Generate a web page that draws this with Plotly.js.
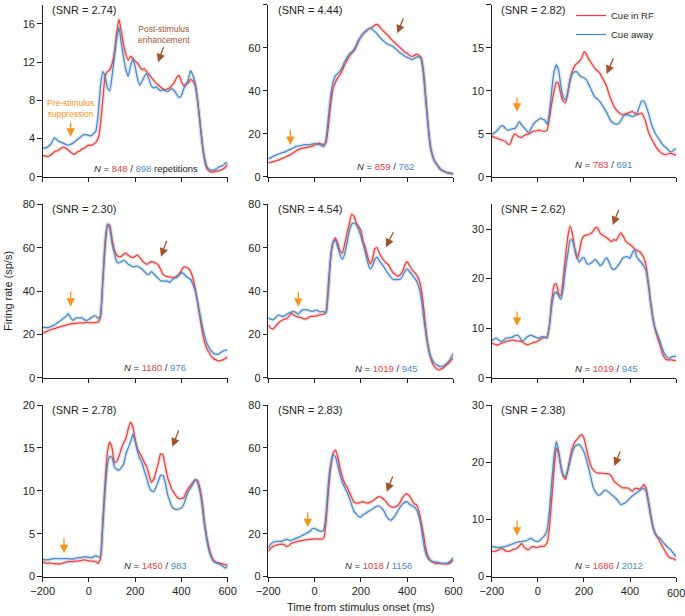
<!DOCTYPE html>
<html><head><meta charset="utf-8">
<script src="https://cdn.plot.ly/plotly-3.0.1.min.js"></script>
<style>html,body{margin:0;padding:0;background:#fff}#chart{width:685px;height:616px}</style>
</head><body><div id="chart"></div>
<script>
// ---------- DATA ----------
const time = [-200,-190,-180,-170,-160,-150,-140,-130,-120,-110,
  -100,-90,-80,-70,-60,-50,-40,-30,-20,-10,
  0,10,20,30,40,50,60,70,80,90,
  100,110,120,130,140,150,160,170,180,190,
  200,210,220,230,240,250,260,270,280,290,
  300,310,320,330,340,350,360,370,380,390,
  400,410,420,430,440,450,460,470,480,490,
  500,510,520,530,540,550,560,570,580,590,600];

const red1 = [2.2,2.2,2.1,2.2,2.4,2.6,2.7,2.8,3.0,3.1, 3.0,2.8,2.6,2.4,2.4,2.6,2.7,2.9,3.0,3.2,
  3.3,3.3,3.4,3.6,4.0,5.5,8.0,10.5,11.0,11.2, 11.8,13.0,15.0,16.5,15.2,13.8,12.8,12.2,12.6,12.4,
  12.1,11.9,11.5,11.2,11.3,11.0,10.7,10.4,10.1,9.8, 9.6,9.4,9.2,9.1,9.2,9.3,9.6,9.9,10.4,10.6,
  10.0,9.5,9.7,9.8,10.2,10.0,9.5,8.0,5.8,3.5, 1.8,0.9,0.6,0.5,0.5,0.6,0.6,0.7,0.8,1.0, 1.3];
const blue1 = [3.0,3.0,3.1,3.3,3.6,4.1,3.9,3.7,3.6,3.5, 3.4,3.3,3.4,3.5,3.7,3.9,4.1,4.3,4.4,4.4,
  4.3,4.3,4.5,4.8,6.5,9.5,11.0,10.5,9.3,9.0, 10.5,12.5,14.5,15.6,14.0,12.5,11.2,10.5,11.6,12.3,
  11.5,10.3,9.6,10.0,10.5,10.8,10.2,9.5,9.3,9.4, 9.2,9.0,9.1,9.0,8.9,9.1,9.2,9.0,8.6,8.3,
  8.5,9.2,9.6,10.2,11.1,10.6,9.8,8.0,5.8,3.6, 2.0,1.1,0.8,0.7,0.7,0.8,1.0,1.1,1.2,1.4, 1.5];

const red2 = [6.5,6.7,7.0,7.3,7.7,8.0,8.6,9.0,9.5,10.0, 10.5,11.3,12.0,12.6,13.0,13.3,13.5,13.7,14.0,14.3,
  14.8,15.2,15.6,15.2,15.0,16.0,24.0,34.0,41.0,44.0, 46.0,47.5,49.5,52.0,54.0,56.0,57.5,58.5,60.5,63.0,
  65.0,66.5,67.5,68.5,69.0,69.5,70.5,70.8,70.0,68.5, 67.5,66.5,65.5,64.0,63.0,62.0,61.0,60.0,59.0,58.0,
  57.5,56.5,56.0,56.3,57.0,56.5,55.5,50.0,38.0,25.0, 15.0,10.0,7.0,5.5,4.0,3.0,2.5,2.0,1.8,1.5, 1.3];
const blue2 = [8.3,8.8,9.5,10.0,10.4,10.8,11.2,11.5,12.0,12.5, 13.0,13.5,14.2,14.3,14.5,14.8,15.0,14.8,15.0,15.2,
  15.5,15.3,15.0,14.5,14.0,18.0,28.0,38.0,44.0,47.0, 48.0,49.0,51.0,53.5,55.5,57.0,58.0,59.0,61.0,63.5,
  65.0,66.5,67.5,68.5,69.0,68.5,67.5,66.5,65.0,64.0, 63.0,62.0,61.5,61.0,60.5,59.5,58.5,57.5,57.0,56.0,
  55.5,55.0,54.5,55.0,55.5,55.8,55.0,48.0,36.0,24.0, 14.0,9.5,7.0,5.5,4.0,3.0,2.5,2.0,1.8,1.6, 1.5];

const red3 = [4.7,4.6,4.5,4.4,4.3,4.2,4.1,3.8,3.8,4.6, 5.0,4.8,4.6,4.6,4.8,4.9,5.0,5.1,5.3,5.3,
  5.4,5.4,5.3,5.3,5.4,6.8,8.5,9.9,11.0,10.8, 9.5,8.8,8.6,9.8,11.3,12.3,12.9,13.2,13.4,13.8,
  14.5,14.3,13.7,13.3,12.9,12.5,12.3,12.0,11.5,11.0, 10.4,9.5,8.8,8.2,7.8,7.5,7.3,7.2,7.3,7.4,
  7.5,7.6,7.4,7.2,7.3,7.4,7.0,6.2,5.2,4.6, 4.1,3.6,3.2,2.9,2.7,2.6,2.6,2.7,2.7,2.6, 2.5];
const blue3 = [4.9,5.1,5.3,5.6,5.9,5.9,5.6,5.4,5.5,5.6, 5.6,6.0,6.4,6.0,5.7,5.4,5.1,5.6,6.1,6.4,
  6.6,6.8,6.7,6.6,6.1,7.5,10.0,12.2,13.0,12.4, 10.5,9.3,8.9,9.8,11.3,12.0,12.2,12.2,11.8,11.6,
  11.5,11.3,10.8,10.2,9.6,9.2,9.0,8.7,8.3,7.9, 7.4,6.8,6.4,6.2,6.1,6.2,6.5,7.0,7.2,7.2,
  7.1,7.0,7.1,7.4,8.1,8.8,8.8,8.2,7.4,6.4, 5.6,5.0,4.6,4.2,3.8,3.5,3.3,3.0,2.9,3.1, 3.3];

const red4 = [20.5,21.0,21.5,22.0,22.3,22.6,23.0,23.3,23.6,23.9, 24.2,24.5,24.8,25.0,25.0,25.2,25.3,25.2,25.3,25.5,
  25.4,25.3,25.4,25.5,25.6,28.0,44.0,60.0,70.0,70.5, 64.0,59.0,56.6,55.8,56.0,57.0,57.5,56.5,55.8,55.4,
  56.0,56.6,55.5,54.0,53.0,52.3,53.0,53.5,53.3,52.8, 52.0,50.0,47.8,47.0,46.6,46.5,46.2,46.3,46.8,47.8,
  49.5,51.0,51.0,50.5,49.0,46.0,41.0,35.0,28.0,21.5, 16.5,13.5,11.5,9.8,8.8,8.2,7.8,7.9,8.2,8.9, 9.7];
const blue4 = [23.2,23.2,23.1,23.3,23.8,24.3,25.0,25.8,26.6,27.4, 28.2,29.5,27.8,26.5,27.3,27.7,27.6,27.6,26.8,26.4,
  27.0,27.6,28.5,28.4,27.4,28.5,45.0,63.0,71.0,69.0, 62.0,57.5,53.5,53.0,53.5,54.2,53.5,52.3,51.8,51.2,
  51.3,51.5,50.8,50.0,49.0,47.8,47.8,48.9,48.0,46.8, 45.8,44.8,44.6,44.6,44.5,44.0,45.2,46.0,46.3,47.2,
  48.5,48.0,46.8,46.0,45.3,43.0,40.0,35.0,29.5,24.0, 19.5,16.0,13.8,12.3,11.2,10.9,10.8,11.6,12.3,12.6, 12.8];

const red5 = [24.4,22.8,22.5,23.5,24.8,25.8,26.5,27.0,27.3,28.5, 29.7,29.0,28.3,28.0,27.8,27.3,27.1,27.5,28.2,28.3,
  28.3,28.6,29.0,29.1,29.3,30.5,44.0,56.0,62.5,64.5, 62.0,58.5,57.5,61.5,66.5,71.0,75.4,74.6,71.5,69.8,
  68.0,63.0,60.0,55.5,52.5,54.5,59.5,60.0,57.5,55.5, 54.0,53.0,52.0,50.0,48.3,47.5,46.8,47.5,49.0,52.0,
  53.5,51.8,50.0,48.8,47.5,45.5,41.5,33.7,23.5,15.0, 10.0,6.5,5.0,3.9,3.6,4.2,4.8,5.8,6.8,8.0, 9.3];
const blue5 = [27.5,27.0,26.7,27.5,28.7,28.8,28.3,28.5,29.3,29.9, 30.3,30.6,30.0,29.3,30.5,31.4,31.4,31.3,30.8,30.6,
  31.0,31.2,30.5,30.4,30.5,29.8,40.0,56.0,62.5,63.5, 60.5,56.8,54.6,57.0,62.0,67.6,70.8,71.3,70.6,68.5,
  65.5,61.5,57.5,53.0,50.3,51.5,54.5,55.6,54.0,52.5, 51.0,49.3,47.8,46.3,45.3,45.3,45.3,45.4,46.8,49.0,
  50.2,49.0,47.8,46.3,44.8,42.0,37.5,29.0,21.0,14.5, 10.2,8.0,6.6,5.8,5.2,5.2,5.6,6.5,7.5,9.3, 11.3];

const red6 = [7.0,6.8,6.6,6.7,6.9,7.1,7.3,7.4,7.5,7.6, 7.5,7.4,7.4,7.3,7.0,6.7,6.7,6.9,7.1,7.2,
  7.4,7.7,8.0,8.1,8.2,10.5,15.5,18.6,19.0,17.0, 16.5,20.0,24.5,28.5,30.6,29.0,26.0,24.0,25.5,27.8,
  28.6,28.8,28.9,29.1,29.6,30.3,30.2,29.2,28.8,28.5, 28.2,27.8,27.5,27.9,27.7,28.5,29.3,28.6,27.6,27.2,
  26.9,26.5,26.0,25.7,25.5,25.0,24.2,22.5,19.0,15.2, 11.8,9.6,8.0,6.6,5.0,4.0,3.6,3.6,3.6,3.5, 3.4];
const blue6 = [7.4,7.8,8.0,7.6,7.3,7.5,8.0,8.0,8.1,8.2, 8.5,8.6,8.3,7.5,7.6,8.1,8.4,8.6,8.4,8.2,
  8.0,8.1,8.3,8.2,8.0,10.5,14.5,16.8,17.3,16.5, 15.8,18.0,22.0,25.0,27.8,27.8,26.0,24.5,23.3,24.0,
  24.3,23.2,22.9,23.1,23.5,23.9,23.3,22.6,23.0,23.8, 24.2,23.2,22.1,21.8,22.2,22.8,23.5,24.2,24.4,24.4,
  24.1,25.2,25.8,24.3,23.7,23.2,22.5,21.5,18.5,14.8, 11.7,9.8,8.6,7.3,5.9,4.8,4.2,3.9,4.2,4.3, 4.3];

const red7 = [1.75,1.6,1.55,1.6,1.55,1.5,1.5,1.45,1.5,1.6, 1.7,1.75,1.75,1.75,1.8,1.8,1.85,1.9,1.95,1.9,
  1.85,1.8,1.8,1.7,1.55,2.1,6.5,11.0,14.5,15.7, 15.0,13.3,13.4,14.0,14.9,15.6,16.1,17.2,18.0,17.5,
  16.0,14.9,14.4,13.9,13.3,12.8,11.9,11.0,11.3,12.2, 13.2,14.3,14.2,12.9,11.6,10.8,10.1,9.7,9.3,9.1,
  9.1,9.2,9.8,10.3,10.6,11.0,11.3,11.2,10.3,8.8, 6.4,4.6,3.3,2.4,1.9,1.7,1.6,1.55,1.45,1.4, 1.3];
const blue7 = [2.0,1.95,1.95,2.0,2.05,2.1,2.1,2.1,2.1,2.1, 2.1,2.1,2.05,2.05,2.1,2.2,2.2,2.25,2.3,2.3,
  2.25,2.2,2.3,2.45,2.3,2.3,5.8,10.0,13.0,14.0, 13.9,12.8,12.5,12.4,12.7,13.1,14.3,15.0,15.7,16.6,
  15.8,14.6,13.8,13.2,12.3,11.5,10.5,10.0,9.9,10.4, 11.1,11.8,11.8,11.0,9.6,8.8,8.1,7.9,7.8,7.9,
  8.0,8.4,9.2,9.9,10.3,10.8,11.3,10.9,9.9,8.2, 6.0,4.3,3.0,2.2,1.75,1.6,1.5,1.4,1.2,1.0, 1.2];

const red8 = [11.7,13.2,14.0,14.5,14.8,15.0,15.1,14.8,14.0,14.6, 15.5,15.9,16.3,16.5,16.7,16.9,17.1,17.2,17.4,17.5,
  17.5,17.6,17.5,17.5,17.9,26.0,40.0,51.0,57.5,59.0, 56.0,50.7,46.5,43.5,41.8,39.5,37.0,34.8,34.3,34.3,
  34.7,34.8,34.5,34.3,34.7,35.2,36.0,36.8,37.3,36.8, 35.9,34.8,33.4,32.6,32.3,32.6,33.3,34.6,36.8,38.0,
  38.5,37.6,35.8,34.0,33.5,31.0,26.0,20.3,13.5,9.5, 7.7,6.8,6.2,6.1,6.2,6.0,5.9,5.9,6.1,6.6, 7.8];
const blue8 = [13.3,15.0,15.9,16.3,16.4,16.4,16.5,17.0,17.5,16.9, 17.0,17.4,17.8,18.3,18.8,19.3,19.9,20.5,21.1,22.3,
  22.5,21.8,21.4,21.1,21.8,30.0,44.0,52.5,56.5,56.0, 52.0,47.6,44.0,41.5,39.5,36.7,33.5,30.5,29.2,28.0,
  27.8,28.9,29.4,30.2,30.8,31.5,32.3,32.8,32.8,32.0, 30.5,28.3,26.8,26.3,27.3,28.8,30.6,32.5,33.8,34.6,
  35.0,33.8,33.1,32.6,31.3,28.5,23.5,16.4,11.0,8.5, 7.4,7.0,6.8,6.7,6.4,6.2,6.2,6.2,6.6,7.5, 8.9];

const red9 = [4.4,4.4,4.5,4.7,5.0,4.8,4.5,4.4,4.5,4.7, 4.8,5.0,5.4,5.8,5.2,4.8,4.7,5.1,5.3,5.1,
  5.1,5.3,5.3,5.4,5.9,8.5,13.5,18.5,22.5,21.5, 19.2,17.6,17.0,18.6,20.8,22.5,23.5,24.0,24.5,24.8,
  24.2,22.5,20.8,19.4,18.7,18.3,18.1,18.1,18.1,18.0, 18.0,17.9,17.5,16.7,16.3,16.0,15.7,15.5,15.5,15.5,
  15.2,14.9,15.4,15.4,15.3,15.6,16.1,15.5,13.2,10.8, 8.7,7.5,6.8,6.1,5.3,4.6,3.9,3.4,3.2,3.1, 2.8];
const blue9 = [5.3,5.2,5.1,5.1,5.1,5.2,5.3,5.4,5.6,5.7, 5.9,6.0,6.1,6.1,6.2,6.3,6.5,6.7,6.4,6.2,
  6.1,6.4,6.8,7.2,8.2,11.5,16.5,21.0,23.6,22.0, 19.2,17.8,17.4,18.6,20.3,21.8,22.7,23.0,23.1,22.6,
  21.8,20.6,19.0,17.3,15.6,14.8,14.3,14.3,14.7,15.1, 15.0,14.7,14.3,14.0,13.6,13.1,12.6,12.7,12.9,13.3,
  13.7,14.1,14.4,14.7,15.0,15.3,15.4,14.9,12.8,10.5, 8.5,7.4,6.9,6.7,6.2,5.7,5.3,4.9,4.5,4.0, 3.5];

const snrValues = ['2.74','4.44','2.82','2.30','4.54','2.62','2.78','2.83','2.38'];
const nCueRF   = [848, 859, 783, 1180, 1019, 1019, 1450, 1018, 1686];
const nCueAway = [898, 782, 691, 976, 945, 945, 983, 1156, 2012];
const yMax   = [18, 80, 20, 80, 80, 35, 20, 80, 30];
const yTicks = [[0,4,8,12,16],[0,20,40,60,80],[0,5,10,15,20],[0,20,40,60,80],[0,20,40,60,80],
                [0,10,20,30],[0,5,10,15,20],[0,20,40,60,80],[0,10,20,30]];
const xTicks = [-200, 0, 200, 400, 600];
const xTickText = ['\u2212200', '0', '200', '400', '600'];
const seriesNames = ['Cue in RF', 'Cue away'];
const redSeries  = [red1, red2, red3, red4, red5, red6, red7, red8, red9];
const blueSeries = [blue1, blue2, blue3, blue4, blue5, blue6, blue7, blue8, blue9];

// ---------- LAYOUT / STYLE ----------
const W = 685, H = 616;
const fx = x => x / W, fy = y => 1 - y / H;
const colLeft = [42.7, 268.3, 491.8], colRight = [227.6, 453.4, 676.1];
const rowTop = [4.7, 204.3, 405], rowBottom = [176.8, 377.7, 576.6];
const RED = '#e8423f', BLUE = '#4b8ac6';
const RED_BAND = 'rgba(232,66,63,0.16)', BLUE_BAND = 'rgba(75,138,198,0.18)';
const INK = '#231f20', ORANGE = '#f7941d', BROWN = '#a3532a';
const FONT = 'Liberation Sans, Arial, Helvetica, sans-serif';

const nPos = [[92,168],[355,167],[573.3,164.3],[121.7,367.3],[353.3,368.3],[573.3,368.3],[121.7,565],[343.3,565.7],[573.3,565.7]];
const orangeArrows = [[70.7,120.7,136.7],[290.3,128.3,145],[517,96,111.7],[70.7,290,306.7],[298.3,290.3,306.7],[517,310,326],[64,536.7,553.3],[307.7,511,527.3],[517,519,535.7]];
const brownArrows = [[164,45.7,158,62.3],[404,16.7,397.3,33.3],[614,56.7,606.7,74],[167.3,239.3,161,256.7],[394,230.7,386,247.3],[619.3,208.3,612.7,225],[179.3,429,172.3,446.7],[393.3,475,386.7,491.7],[620.7,450,614.3,466]];

const traces = [];
const layout = {
  width: W, height: H, margin: {l:0, r:0, t:0, b:0},
  paper_bgcolor: '#fff', plot_bgcolor: '#fff',
  font: {family: FONT, color: INK, size: 11},
  showlegend: true,
  legend: {x: fx(571), y: fy(1), xanchor: 'left', yanchor: 'top', bgcolor: 'rgba(0,0,0,0)',
           font: {size: 9.5, color: INK}, itemwidth: 30, tracegroupgap: 0, traceorder: 'normal'},
  annotations: [], shapes: []
};

for (let i = 0; i < 9; i++) {
  const c = i % 3, r = Math.floor(i / 3);
  const sfx = i === 0 ? '' : String(i + 1);
  const xa = 'x' + sfx, ya = 'y' + sfx;
  [[redSeries[i], RED_BAND], [blueSeries[i], BLUE_BAND]].forEach(([ys, col]) => {
    traces.push({x: time, y: ys, xaxis: xa, yaxis: ya, type: 'scatter', mode: 'lines',
      line: {color: col, width: 4, shape: 'spline', smoothing: 0.4}, hoverinfo: 'skip', showlegend: false});
  });
  [[redSeries[i], RED, 0], [blueSeries[i], BLUE, 1]].forEach(([ys, col, k]) => {
    traces.push({x: time, y: ys, xaxis: xa, yaxis: ya, type: 'scatter', mode: 'lines',
      name: seriesNames[k], legendgroup: seriesNames[k], showlegend: i === 0,
      line: {color: col, width: 1.3, shape: 'spline', smoothing: 0.4}});
  });
  // last panel: Plotly drops its right-most tick label at the page edge, so that label is written as a text below
  const tt = (i === 8) ? xTickText.map((t, j) => j === xTickText.length - 1 ? '' : t) : xTickText;
  layout['xaxis' + sfx] = {
    domain: [fx(colLeft[c]), fx(colRight[c])], range: [-200, 600], anchor: ya,
    showline: true, linecolor: INK, linewidth: 1, ticks: 'outside', ticklen: 4.5, tickwidth: 1, tickcolor: INK,
    tickmode: 'array', tickvals: xTicks, ticktext: tt, showticklabels: r === 2, showgrid: false, zeroline: false,
    tickfont: {size: 11, color: INK}, fixedrange: true
  };
  layout['yaxis' + sfx] = {
    domain: [fy(rowBottom[r]), fy(rowTop[r])], range: [0, yMax[i]], anchor: xa,
    showline: true, linecolor: INK, linewidth: 1, ticks: 'outside', ticklen: 4.5, tickwidth: 1, tickcolor: INK,
    tickvals: yTicks[i], showgrid: false, zeroline: false,
    tickfont: {size: 11, color: INK}, fixedrange: true
  };
  layout.annotations.push({xref:'paper', yref:'paper', x: fx(colLeft[c] + 7.5), y: fy(rowTop[r] + 4.8),
    xanchor:'left', yanchor:'middle', showarrow:false, text: '(SNR = ' + snrValues[i] + ')',
    font: {size: 11, color: INK}});
  layout.annotations.push({xref:'paper', yref:'paper', x: fx(nPos[i][0]), y: fy(nPos[i][1]),
    xanchor:'left', yanchor:'middle', showarrow:false,
    text: '<i>N</i> = <span style="color:' + RED + '">' + nCueRF[i] + '</span> / <span style="color:' + BLUE + '">' + nCueAway[i] + '</span>' + (i === 0 ? ' repetitions' : ''),
    font: {size: 9.5, color: INK}});
  const oa = orangeArrows[i];
  layout.annotations.push({xref:'paper', yref:'paper', x: fx(oa[0]), y: fy(oa[2]), ax: 0, ay: oa[1] - oa[2],
    axref:'pixel', ayref:'pixel', showarrow:true, arrowhead:2, arrowsize:1.3, arrowwidth:1.3, arrowcolor: ORANGE, text:''});
  const ba = brownArrows[i];
  layout.annotations.push({xref:'paper', yref:'paper', x: fx(ba[2]), y: fy(ba[3]), ax: ba[0] - ba[2], ay: ba[1] - ba[3],
    axref:'pixel', ayref:'pixel', showarrow:true, arrowhead:2, arrowsize:1.3, arrowwidth:1.3, arrowcolor: BROWN, text:''});
}

layout.annotations.push({xref:'x9', yref:'paper', x: xTicks[xTicks.length - 1], y: fy(592.5), xanchor:'center', yanchor:'middle',
  showarrow:false, text: xTickText[xTickText.length - 1], font:{size: 11, color: INK}});

layout.annotations.push({xref:'paper', yref:'paper', x: fx(70.7), y: fy(108.7), xanchor:'center', yanchor:'middle',
  showarrow:false, text:'Pre-stimulus<br>suppression', font:{size: 8.5, color: ORANGE}});
layout.annotations.push({xref:'paper', yref:'paper', x: fx(164), y: fy(34.5), xanchor:'center', yanchor:'middle',
  showarrow:false, text:'Post-stimulus<br>enhancement', font:{size: 8.5, color: BROWN}});
layout.annotations.push({xref:'paper', yref:'paper', x: fx(8), y: fy(291), xanchor:'center', yanchor:'middle',
  showarrow:false, textangle:-90, text:'Firing rate (sp/s)', font:{size: 11, color: INK}});
layout.annotations.push({xref:'paper', yref:'paper', x: fx(360.8), y: fy(607), xanchor:'center', yanchor:'middle',
  showarrow:false, text:'Time from stimulus onset (ms)', font:{size: 11, color: INK}});

Plotly.newPlot('chart', traces, layout, {displayModeBar: false, staticPlot: true});
</script>
</body></html>
